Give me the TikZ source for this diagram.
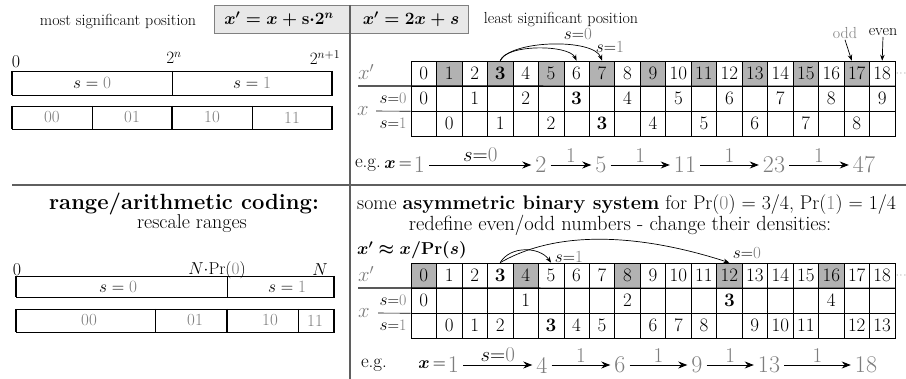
\documentclass[tikz,border=0pt]{standalone}
\usepackage{amsmath,bm}
\usepackage{tikz}
\usetikzlibrary{arrows.meta,positioning}
\definecolor{numgray}{RGB}{125,125,125}
\definecolor{cellgray}{RGB}{178,178,178}
\definecolor{boxgray}{RGB}{232,232,232}
\definecolor{rulegray}{RGB}{95,95,95}
\newcommand{\gr}[1]{\textcolor{numgray}{#1}}
\newcommand{\fsz}[1]{\fontsize{#1}{#1}\selectfont}
\newcommand{\seq}[1]{$s$=\gr{#1}}
\newcommand{\xp}{$x^{\prime}$}
\newcommand{\eqmost}{{\boldmath$x^{\prime} = x + \mathbf{s}{\cdot}\mathbf{2}^{n}$}}
\newcommand{\eqleast}{{\boldmath$x^{\prime} = 2x + s$}}
\newcommand{\eqapprox}{{\boldmath$x^{\prime} \approx x/\mathbf{Pr}(s)$}}
\tikzset{
    tabcell/.style={draw, line width=0.6pt, minimum width=25.47pt, minimum height=25pt, inner sep=0pt, font=\fsz{19}},
    greycell/.style={tabcell, fill=cellgray},
    divider/.style={line width=1.3pt, rulegray},
    barline/.style={line width=0.7pt},
    barend/.style={line width=2.2pt},
    hop/.style={line width=0.7pt, -{Stealth[length=6pt, width=4.5pt]}},
    egarrow/.style={line width=0.9pt, -{Stealth[length=9pt, width=7pt]}},
    eqbox/.style={draw=gray, fill=boxgray, line width=0.8pt},
    egnum/.style={text=numgray, font=\fsz{24}, inner ysep=2pt, inner xsep=4pt},
    eglbl/.style={above=-1pt, font=\fsz{21}},
    lbl/.style={font=\fsz{16}, inner sep=1pt}
}
\begin{document}
\begin{tikzpicture}[x=1pt, y=-1pt]
\useasboundingbox (0,0) rectangle (906,379);

% header
\draw[eqbox] (214,5) rectangle (350,33);
\draw[eqbox] (350,5) rectangle (468,33);
\node[lbl] (msp) at (118,22) {most significant position};
\node[font=\fsz{17}] (eqa) at (279,19) {\eqmost};
\node[font=\fsz{17}] (eqb) at (411,19) {\eqleast};
\node[lbl] (lsp) at (561,20) {least significant position};

\draw[divider] (350,5) -- (350,379);
\draw[divider] (12,185) -- (906,185);

% binary ranges
\node[font=\fsz{18}] (z1) at (16,62) {0};
\node[font=\fsz{18}] (hn) at (174,58) {$2^{n}$};
\node[font=\fsz{18}] (hn1) at (325,58) {$2^{n+1}$};
\draw[barline] (12,71) rectangle (332,95);
\draw[barline] (172,71) -- (172,95);
\draw[barend] (12,71) -- (12,95) (332,71) -- (332,95);
\node[font=\fsz{17}] (ra) at (92,83) {$s = \gr{0}$};
\node[font=\fsz{17}] (rb) at (252,83) {$s = \gr{1}$};

\draw[barline] (12,106) rectangle (332,129);
\draw[barline] (92,106) -- (92,129) (252,106) -- (252,129);
\draw[barend] (12,106) -- (12,129) (172,106) -- (172,129) (332,106) -- (332,129);
\node[font=\fsz{17}, text=numgray] (c00) at (52,117.5) {00};
\node[font=\fsz{17}, text=numgray] (c01) at (132,117.5) {01};
\node[font=\fsz{17}, text=numgray] (c10) at (212,117.5) {10};
\node[font=\fsz{17}, text=numgray] (c11) at (292,117.5) {11};

% top table
\foreach \i in {0,...,18}{
  \pgfmathtruncatemacro{\r}{mod(\i,2)}
  \ifnum\r=1
    \node[greycell] (p-\i) at ({411+(\i+0.5)*25.47},73.5) {\ifnum\i=3 \bfseries\fi\i};
  \else
    \node[tabcell] (p-\i) at ({411+(\i+0.5)*25.47},73.5) {\i};
  \fi
}
\foreach \v [count=\i from 0] in {0,{},1,{},2,{},\textbf{3},{},4,{},5,{},6,{},7,{},8,{},9}
  \node[tabcell] (a-\i) at ({411+(\i+0.5)*25.47},98.5) {\v};
\foreach \v [count=\i from 0] in {{},0,{},1,{},2,{},\textbf{3},{},4,{},5,{},6,{},7,{},8,{}}
  \node[tabcell] (b-\i) at ({411+(\i+0.5)*25.47},123.5) {\v};
\draw[line width=1.2pt] (358,86) -- (p-18.south east);
\draw[line width=0.6pt] (376,111) -- (a-0.south west);
\node[font=\fsz{20}, text=numgray] (xl1) at (366,72) {\xp};
\node[font=\fsz{20}, text=numgray] (xs1) at (363,111) {$x$};
\node[font=\fsz{16}] (s0a) at (393,98.5) {\seq{0}};
\node[font=\fsz{16}] (s1a) at (393,123.5) {\seq{1}};
\node[font=\fsz{8}, anchor=west, inner sep=0pt] (dt1) at (896,73.5) {$\cdots$};

\draw[hop] (p-3.north) to[out=70, in=115, looseness=0.6] (p-6.north);
\draw[hop] (p-3.north) to[out=62, in=110, looseness=0.6] (p-7.north);
\node[font=\fsz{17}] (j0) at (578,34) {\seq{0}};
\node[font=\fsz{17}] (j1) at (610,47) {\seq{1}};
\node[lbl, text=numgray] (odd) at (845,33) {odd};
\node[lbl] (even) at (883,32) {even};
\draw[hop] (odd.south) -- ([xshift=-5pt]p-17.north);
\draw[hop] (even.south) -- (p-18.north);

% top example
\node[font=\fsz{19}] (eg1) at (368,165) {e.g.};
\node[font=\fsz{18}, anchor=east, inner sep=0pt] (xe1) at (412,165) {$\bm{x}$\,=};
\node[egnum] (t1) at (419.5,165) {1};
\node[egnum] (t2) at (541,165) {2};
\node[egnum] (t5) at (601,165) {5};
\node[egnum] (t11) at (685,165) {11};
\node[egnum] (t23) at (774,165) {23};
\node[egnum] (t47) at (864,165) {47};
\draw[egarrow] (t1) -- node[eglbl] {\seq{0}} (t2);
\draw[egarrow] (t2) -- node[eglbl, text=numgray] {1} (t5);
\draw[egarrow] (t5) -- node[eglbl, text=numgray] {1} (t11);
\draw[egarrow] (t11) -- node[eglbl, text=numgray] {1} (t23);
\draw[egarrow] (t23) -- node[eglbl, text=numgray] {1} (t47);

% arithmetic coding ranges
\node[font=\bfseries\fsz{22}] (rac) at (184,204) {range/arithmetic coding:};
\node[font=\fsz{20}] (rr) at (192,224) {rescale ranges};
\node[font=\fsz{18}] (z2) at (17,270) {0};
\node[font=\fsz{18}] (npr) at (217,270) {$N{\cdot}\mathrm{Pr}(\gr{0})$};
\node[font=\fsz{18}] (nn) at (320,270) {$N$};
\draw[barline] (16,276) rectangle (334,297);
\draw[barline] (227,276) -- (227,297);
\draw[barend] (16,276) -- (16,297) (334,276) -- (334,297);
\node[font=\fsz{17}] (rc) at (118,286.5) {$s = \gr{0}$};
\node[font=\fsz{17}] (rd) at (287,286.5) {$s = \gr{1}$};

\draw[barline] (16,309) rectangle (334,332);
\draw[barline] (155,309) -- (155,332) (298,309) -- (298,332);
\draw[barend] (16,309) -- (16,332) (227,309) -- (227,332) (334,309) -- (334,332);
\node[font=\fsz{17}, text=numgray] (d00) at (89,320.5) {00};
\node[font=\fsz{17}, text=numgray] (d01) at (195,320.5) {01};
\node[font=\fsz{17}, text=numgray] (d10) at (270,320.5) {10};
\node[font=\fsz{17}, text=numgray] (d11) at (315,320.5) {11};

% ANS part
\node[font=\fsz{19.8}, anchor=west, inner sep=0pt] (abs) at (357,205) {some \textbf{asymmetric binary system} for Pr(\gr{0}) = 3/4, Pr(\gr{1}) = 1/4};
\node[font=\fsz{20.5}] (redef) at (620,225) {redefine even/odd numbers - change their densities:};
\node[font=\fsz{18}, anchor=west, inner sep=0pt] (approx) at (357,250) {\eqapprox};

\foreach \i in {0,...,18}{
  \pgfmathtruncatemacro{\r}{mod(\i,4)}
  \ifnum\r=0
    \node[greycell] (q-\i) at ({411+(\i+0.5)*25.47},275.5) {\i};
  \else
    \node[tabcell] (q-\i) at ({411+(\i+0.5)*25.47},275.5) {\ifnum\i=3 \bfseries\fi\i};
  \fi
}
\foreach \v [count=\i from 0] in {0,{},{},{},1,{},{},{},2,{},{},{},\textbf{3},{},{},{},4,{},{}}
  \node[tabcell] (c-\i) at ({411+(\i+0.5)*25.47},300.5) {\v};
\foreach \v [count=\i from 0] in {{},0,1,2,{},\textbf{3},4,5,{},6,7,8,{},9,10,11,{},12,13}
  \node[tabcell] (d-\i) at ({411+(\i+0.5)*25.47},325.5) {\v};
\draw[line width=1.2pt] (358,288) -- (q-18.south east);
\draw[line width=0.6pt] (378,313) -- (c-0.south west);
\node[font=\fsz{20}, text=numgray] (xl2) at (366,274) {\xp};
\node[font=\fsz{20}, text=numgray] (xs2) at (364,313) {$x$};
\node[font=\fsz{16}] (s0b) at (393,300.5) {\seq{0}};
\node[font=\fsz{16}] (s1b) at (393,325.5) {\seq{1}};
\node[font=\fsz{8}, anchor=west, inner sep=0pt] (dt2) at (896,275.5) {$\cdots$};

\draw[hop] (q-3.north) to[out=60, in=125] (q-5.north);
\draw[hop] (q-3.north) to[out=30, in=162, looseness=0.85] (q-12.north);
\node[font=\fsz{17}] (k1) at (569,257) {\seq{1}};
\node[font=\fsz{17}] (k0) at (747,253) {\seq{0}};

% bottom example
\node[font=\fsz{19}] (eg2) at (374,365) {e.g.};
\node[font=\fsz{18}, anchor=east, inner sep=0pt] (xe2) at (446,365) {$\bm{x}$\,=};
\node[egnum] (u1) at (453.5,365) {1};
\node[egnum] (u4) at (542,365) {4};
\node[egnum] (u6) at (620,365) {6};
\node[egnum] (u9) at (697,365) {9};
\node[egnum] (u13) at (769,365) {13};
\node[egnum] (u18) at (866,365) {18};
\draw[egarrow] (u1) -- node[eglbl] {\seq{0}} (u4);
\draw[egarrow] (u4) -- node[eglbl, text=numgray] {1} (u6);
\draw[egarrow] (u6) -- node[eglbl, text=numgray] {1} (u9);
\draw[egarrow] (u9) -- node[eglbl, text=numgray] {1} (u13);
\draw[egarrow] (u13) -- node[eglbl, text=numgray] {1} (u18);
\end{tikzpicture}
\end{document}
